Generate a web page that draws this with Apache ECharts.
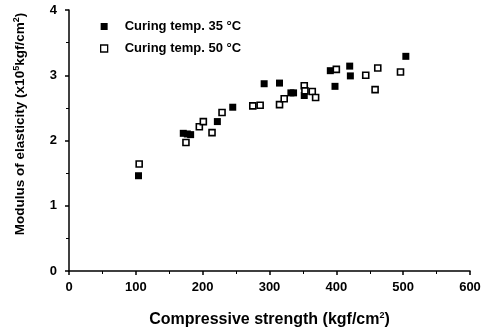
<!DOCTYPE html>
<html><head><meta charset="utf-8">
<script src="https://cdn.jsdelivr.net/npm/echarts@6/dist/echarts.min.js"></script>
<style>html,body{margin:0;padding:0;background:#fff}#c{width:490px;height:334px}</style>
</head><body><div id="c"></div>
<script>
const xTicks = [0, 100, 200, 300, 400, 500, 600];
const yTicks = [0, 1, 2, 3, 4];
const series35Name = 'Curing temp. 35 °C';
const series50Name = 'Curing temp. 50 °C';
const cure35X = [104, 171, 177, 182, 222, 245, 292, 315, 332, 336, 352, 391, 398, 420, 421, 504];
const cure35Y = [1.46, 2.11, 2.10, 2.09, 2.29, 2.51, 2.87, 2.88, 2.73, 2.73, 2.69, 3.07, 2.83, 3.14, 2.99, 3.29];
const cure50X = [105, 175, 195, 201, 214, 229, 275, 286, 315, 322, 352, 353, 364, 369, 400, 444, 458, 462, 496];
const cure50Y = [1.64, 1.97, 2.21, 2.29, 2.12, 2.43, 2.53, 2.54, 2.55, 2.64, 2.84, 2.76, 2.75, 2.66, 3.09, 3.00, 2.78, 3.11, 3.05];

const font = 'Arial, "Liberation Sans", Helvetica, sans-serif';
const chart = echarts.init(document.getElementById('c'), null, {renderer: 'canvas'});
const pair = (xs, ys) => xs.map((x, i) => [x, ys[i]]);
chart.setOption({
  animation: false,
  grid: {left: 69, right: 20, top: 10, bottom: 63},
  legend: {
    orient: 'vertical', left: 95, top: 15, itemGap: 9,
    itemWidth: 7, itemHeight: 7,
    textStyle: {fontFamily: font, fontSize: 13, fontWeight: 'bold', color: '#000', padding: [0, 0, 0, 12]},
    data: [
      {name: series35Name, icon: 'rect', itemStyle: {color: '#000', borderWidth: 0}},
      {name: series50Name, icon: 'rect', itemStyle: {color: '#fff', borderColor: '#000', borderWidth: 1.3}}
    ]
  },
  xAxis: {
    type: 'value', min: 0, max: 600, interval: 100,
    name: 'Compressive strength (kgf/cm{s|2})', nameLocation: 'middle', nameGap: 40,
    nameTextStyle: {fontFamily: font, fontSize: 16, fontWeight: 'bold', color: '#000', rich: {s: {fontSize: 9, fontWeight: 'bold', padding: [0, 0, 8, 0], fontFamily: font, color: '#000'}}},
    axisLine: {lineStyle: {color: '#000', width: 1.5}},
    axisTick: {show: true, length: 4, lineStyle: {color: '#000', width: 1.5}},
    minorTick: {show: true, splitNumber: 2, length: 3, lineStyle: {color: '#000', width: 1}},
    splitLine: {show: false},
    axisLabel: {fontFamily: font, fontSize: 13, fontWeight: 'bold', color: '#000', margin: 10,
      formatter: v => xTicks.includes(v) ? String(v) : ''}
  },
  yAxis: {
    type: 'value', min: 0, max: 4, interval: 1,
    name: 'Modulus of elasticity (x10{s|5}kgf/cm{s|2})', nameLocation: 'middle', nameGap: 40, nameRotate: 90,
    nameTextStyle: {fontFamily: font, fontSize: 13.5, fontWeight: 'bold', color: '#000', padding: [0, 0, 0, 33],
      rich: {s: {fontSize: 9, fontWeight: 'bold', fontFamily: font, color: '#000', padding: [0, 0, 8, 0]}}},
    axisLine: {show: true, lineStyle: {color: '#000', width: 1.5}},
    axisTick: {show: true, length: 4, lineStyle: {color: '#000', width: 1.5}},
    minorTick: {show: true, splitNumber: 2, length: 3, lineStyle: {color: '#000', width: 1}},
    splitLine: {show: false},
    axisLabel: {fontFamily: font, fontSize: 13, fontWeight: 'bold', color: '#000', margin: 12,
      formatter: v => yTicks.includes(v) ? String(v) : ''}
  },
  series: [
    {name: series35Name, type: 'scatter', symbol: 'rect', symbolSize: 7,
     itemStyle: {color: '#000', borderColor: '#000', borderWidth: 0, opacity: 1},
     data: pair(cure35X, cure35Y)},
    {name: series50Name, type: 'scatter', symbol: 'rect', symbolSize: 6,
     itemStyle: {color: '#fff', borderColor: '#000', borderWidth: 1.6, opacity: 1},
     data: pair(cure50X, cure50Y)}
  ]
});
</script></body></html>
